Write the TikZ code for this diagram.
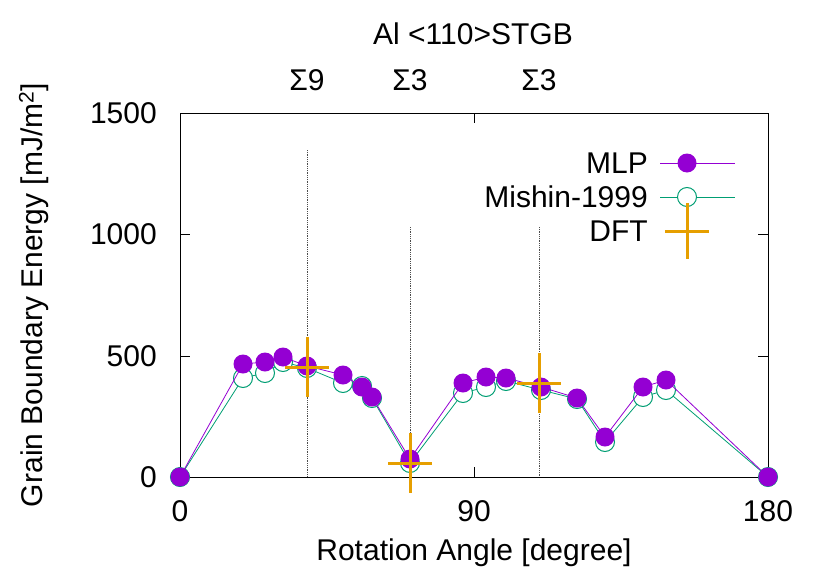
\documentclass[tikz,border=0pt]{standalone}
\usepackage{fontspec}
\setmainfont{Liberation Sans}
\definecolor{mlp}{HTML}{9400D3}
\definecolor{mis}{HTML}{009E73}
\definecolor{dft}{HTML}{E69F00}
\begin{document}
\begin{tikzpicture}[x=1pt,y=-1pt,
  lbl/.style={font=\fontsize{30}{32}\selectfont,inner sep=0pt},
  mlpm/.style={circle,fill=mlp,minimum size=19pt,inner sep=0pt},
  mism/.style={circle,draw=mis,fill=white,line width=1pt,minimum size=19pt,inner sep=0pt},
  guide/.style={densely dotted,line width=0.8pt,black!70}]
\useasboundingbox (0,0) rectangle (830,581);
% guides
\draw[guide] (307,150) -- (307,477);
\draw[guide] (410,227) -- (410,477);
\draw[guide] (539,227) -- (539,477);
% axes frame
\draw[line width=1pt] (180,113) rectangle (768,477);
\foreach \y/\t in {477/0,356/500,234/1000,113/1500}{
  \draw[line width=1pt] (180,\y) -- (190,\y) (768,\y) -- (758,\y);
  \node[lbl,anchor=east] at (157,\y) {\t};}
\foreach \x/\t in {180/0,474/90,768/180}{
  \draw[line width=1pt] (\x,477) -- (\x,467) (\x,113) -- (\x,123);
  \node[lbl] at (\x,511) {\t};}
\node[lbl] at (474,553) {Rotation Angle [degree]};
\node[lbl,rotate=90] at (34,295) {Grain Boundary Energy [mJ/m\textsuperscript{2}]};
\node[lbl] at (473,34) {Al <110>STGB};
\node[lbl] at (307,80) {Σ9};
\node[lbl] at (410,80) {Σ3};
\node[lbl] at (539,80) {Σ3};
% data
\draw[mis,line width=0.8pt] plot coordinates {(180,477)(243,378)(265,373)(283,362)(307,368)(343,383)(362,386)(372,398)(410,463)(463,393)(486,387)(506,381)(541,390)(577,399)(605,442)(643,397)(666,390)(768,477)};
\foreach \p [count=\i] in {(180,477),(243,378),(265,373),(283,362),(307,368),(343,383),(362,386),(372,398),(410,463),(463,393),(486,387),(506,381),(541,390),(577,399),(605,442),(643,397),(666,390),(768,477)}
  \node[mism] (s\i) at \p {};
\draw[mlp,line width=0.8pt] plot coordinates {(180,477)(243,364)(265,362)(283,357)(307,366)(343,375)(362,387)(372,397)(410,459)(463,383)(486,377)(506,378)(541,387)(577,398)(605,437)(643,387)(666,380)(768,477)};
\foreach \p [count=\i] in {(180,477),(243,364),(265,362),(283,357),(307,366),(343,375),(362,387),(372,397),(410,459),(463,383),(486,377),(506,378),(541,387),(577,398),(605,437),(643,387),(666,380),(768,477)}
  \node[mlpm] (m\i) at \p {};
\foreach \p in {(307,367),(410,463),(539,383)}
  \draw[dft,line width=3pt] \p ++(-22,0) -- ++(44,0) \p ++(0,-30) -- ++(0,60);
% legend
\node[lbl,anchor=east] at (648,163) {MLP};
\node[lbl,anchor=east] at (648,197) {Mishin-1999};
\node[lbl,anchor=east] at (648,231) {DFT};
\draw[mlp,line width=0.8pt] (660,163) -- (735,163);
\node[mlpm] at (687,163) {};
\draw[mis,line width=0.8pt] (660,197) -- (735,197);
\node[mism] at (687,197) {};
\draw[dft,line width=3pt] (665,231) -- (709,231) (687,203) -- (687,259);
\end{tikzpicture}
\end{document}
